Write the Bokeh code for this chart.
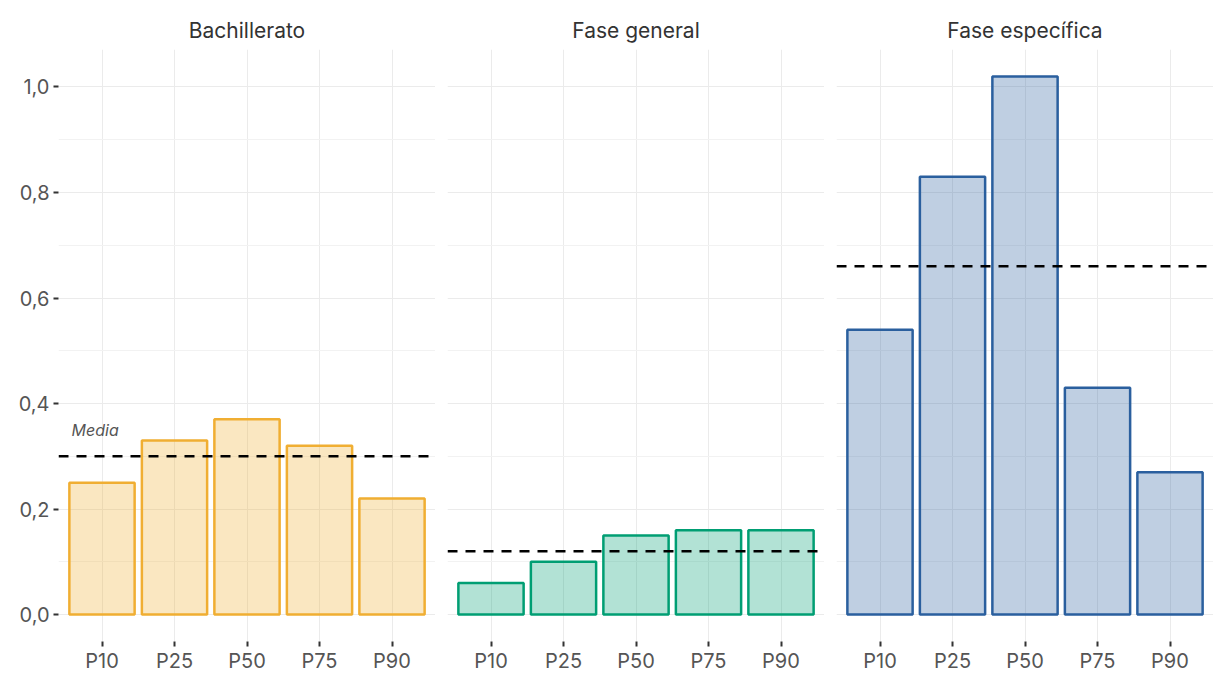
from bokeh.plotting import figure
from bokeh.layouts import row
from bokeh.models import Range1d, FixedTicker, Span, Label
from bokeh.embed import file_html
from bokeh.resources import INLINE

# ---- data ----
percentiles = ["P10", "P25", "P50", "P75", "P90"]
panels = ["Bachillerato", "Fase general", "Fase específica"]
bachillerato = [0.25, 0.33, 0.37, 0.32, 0.22]
fase_general = [0.06, 0.10, 0.15, 0.16, 0.16]
fase_especifica = [0.54, 0.83, 1.02, 0.43, 0.27]
means = [0.30, 0.12, 0.66]
y_ticks = [0.0, 0.2, 0.4, 0.6, 0.8, 1.0]
y_tick_labels = ["0,0", "0,2", "0,4", "0,6", "0,8", "1,0"]
colors = ["#F0AE32", "#009E73", "#2A5F9E"]
series = [bachillerato, fase_general, fase_especifica]

FONT = "Inter"
positions = list(range(1, len(percentiles) + 1))
FRAME_W = 377

figs = []
for i, (name, vals, mean, col) in enumerate(zip(panels, series, means, colors)):
    left = 58 if i == 0 else 0
    p = figure(width=FRAME_W + left, height=675,
               x_range=Range1d(0.4, len(percentiles) + 0.6),
               y_range=Range1d(-0.051, 1.071),
               output_backend="svg", toolbar_location=None,
               min_border_left=left, min_border_right=0,
               min_border_top=49, min_border_bottom=28)
    p.outline_line_color = None
    p.background_fill_color = "white"
    p.border_fill_color = "white"

    p.title.text = name
    p.title.align = "center"
    p.title.text_font = FONT
    p.title.text_font_size = "21px"
    p.title.text_font_style = "normal"
    p.title.text_color = "#333333"
    p.title.standoff = 14

    # grids
    p.xgrid.ticker = FixedTicker(ticks=positions)
    p.ygrid.ticker = FixedTicker(ticks=y_ticks, minor_ticks=[0.1, 0.3, 0.5, 0.7, 0.9])
    p.xgrid.grid_line_color = "#EBEBEB"
    p.ygrid.grid_line_color = "#EBEBEB"
    p.ygrid.minor_grid_line_color = "#F2F2F2"

    # x axis
    p.xaxis.ticker = FixedTicker(ticks=positions)
    p.xaxis.major_label_overrides = {pos: lab for pos, lab in zip(positions, percentiles)}
    p.xaxis.axis_line_color = None
    p.xaxis.major_tick_in = 0
    p.xaxis.major_tick_out = 5
    p.xaxis.major_tick_line_color = "#333333"
    p.xaxis.major_tick_line_width = 2
    p.xaxis.minor_tick_line_color = None
    p.xaxis.major_label_text_font = FONT
    p.xaxis.major_label_text_font_size = "20px"
    p.xaxis.major_label_text_color = "#555555"
    p.xaxis.major_label_standoff = 2

    # y axis
    if i == 0:
        p.yaxis.ticker = FixedTicker(ticks=y_ticks)
        p.yaxis.major_label_overrides = {t: l for t, l in zip(y_ticks, y_tick_labels)}
        p.yaxis.axis_line_color = None
        p.yaxis.major_tick_in = 0
        p.yaxis.major_tick_out = 5
        p.yaxis.major_tick_line_color = "#333333"
        p.yaxis.major_tick_line_width = 2
        p.yaxis.minor_tick_line_color = None
        p.yaxis.major_label_text_font = FONT
        p.yaxis.major_label_text_font_size = "20px"
        p.yaxis.major_label_text_color = "#555555"
        p.yaxis.major_label_standoff = 4
    else:
        p.yaxis.visible = False

    p.vbar(x=positions, top=vals, bottom=0, width=0.9,
           fill_color=col, fill_alpha=0.3, line_color=col, line_width=2.5)

    p.add_layout(Span(location=mean, dimension="width", line_color="black",
                      line_width=2.5, line_dash="10 8"))

    if i == 0:
        p.add_layout(Label(x=positions[0] - 0.42, y=mean + 0.03, text="Media",
                           text_font=FONT, text_font_size="16px",
                           text_font_style="italic", text_color="#555555",
                           text_baseline="bottom", text_align="left"))
    figs.append(p)

layout = row(*figs, spacing=12)
open("out.html", "w").write(file_html(layout, INLINE))
